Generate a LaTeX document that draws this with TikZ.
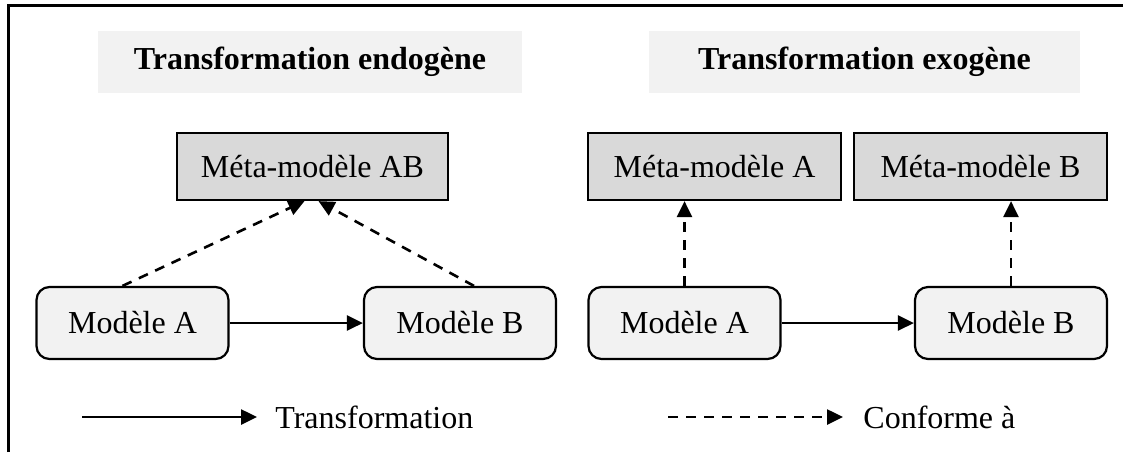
\documentclass[tikz,border=0pt]{standalone}
\usepackage{fontspec}
\setmainfont{Liberation Serif}
\usetikzlibrary{arrows.meta}
\definecolor{fondclair}{HTML}{F2F2F2}
\definecolor{fondgris}{HTML}{D9D9D9}
\tikzstyle{titre}=[fill=fondclair,minimum height=31pt,font=\fontsize{16}{19}\selectfont\bfseries]
\tikzstyle{meta}=[draw,line width=1.1pt,fill=fondgris,minimum width=126.5pt,minimum height=33.5pt,font=\fontsize{16}{19}\selectfont]
\tikzstyle{modele}=[draw,line width=1.1pt,fill=fondclair,rounded corners=6.5pt,minimum width=96pt,minimum height=36pt,font=\fontsize{16}{19}\selectfont]
\tikzstyle{transfo}=[line width=1.3pt,-{Triangle[length=8pt,width=7.5pt]}]
\tikzstyle{conforme}=[transfo,dash pattern=on 5pt off 4pt]

\begin{document}
\begin{tikzpicture}[x=0.5pt,y=-0.5pt]  % 1 unit = 1 px of the reference

\useasboundingbox (0,0) rectangle (1123,452);
\draw[line width=1.5pt] (8,452) -- (8,5) -- (1123,5);

% titles
\node[titre,minimum width=212pt] (tendo) at (310,62) {Transformation endogène};
\node[titre,minimum width=215.5pt] (texo) at (864.5,62) {Transformation exogène};

% endogenous side
\node[meta,minimum width=135.5pt] (mab) at (312.5,166.5) {Méta-modèle AB};
\node[modele] (ma) at (132.5,323) {Modèle A};
\node[modele] (mb) at (460,323) {Modèle B};

\draw[transfo] (ma) -- (mb);
\draw[conforme] ([xshift=-5pt]ma.north) -- ([xshift=-4pt]mab.south);
\draw[conforme] ([xshift=7pt]mb.north) -- ([xshift=3pt]mab.south);

% exogenous side
\node[meta] (mma) at (714.5,166.5) {Méta-modèle A};
\node[meta] (mmb) at (980.5,166.5) {Méta-modèle B};
\node[modele] (xa) at (684.5,323) {Modèle A};
\node[modele] (xb) at (1011,323) {Modèle B};

\draw[transfo] (xa) -- (xb);
\draw[conforme] (xa) -- (mma.south -| xa);
\draw[conforme] (xb) -- (mmb.south -| xb);

% legend
\coordinate (lega) at (82,417);
\coordinate (legb) at (257,417);
\node[anchor=west,inner sep=0pt,font=\fontsize{16}{19}\selectfont] (legt) at (275,417) {Transformation};
\draw[transfo] (lega) -- (legb);

\coordinate (legc) at (668,417);
\coordinate (legd) at (843,417);
\node[anchor=west,inner sep=0pt,font=\fontsize{16}{19}\selectfont] (legu) at (863,417) {Conforme à};
\draw[conforme] (legc) -- (legd);
\end{tikzpicture}
\end{document}
